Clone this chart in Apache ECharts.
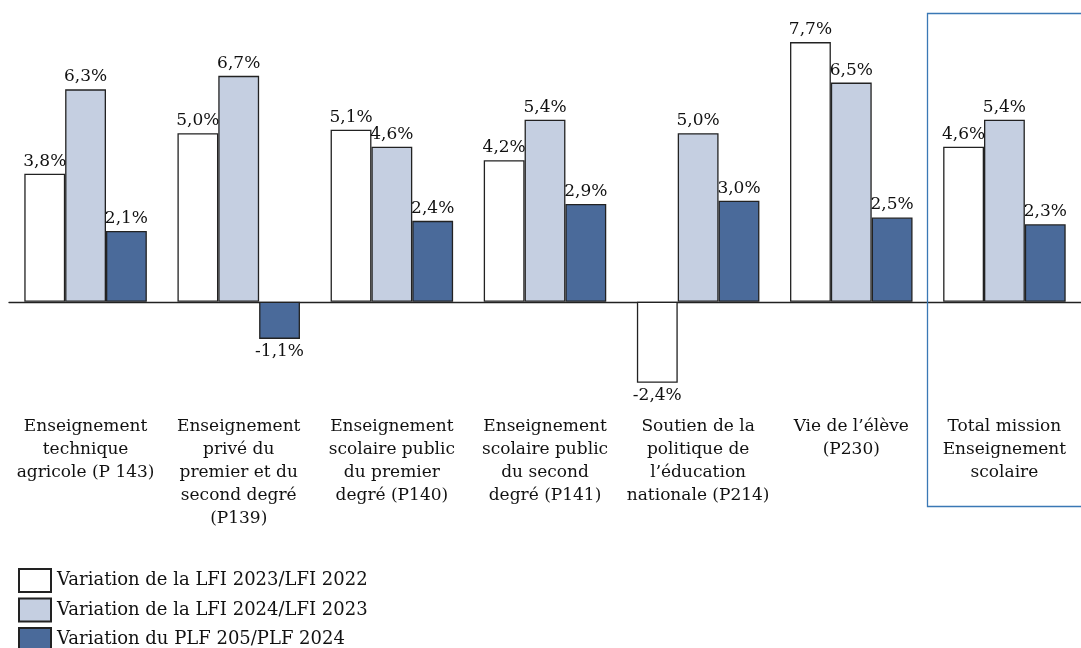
<!DOCTYPE html>
<html lang="fr">
<head>
<meta charset="utf-8">
<script src="https://cdn.jsdelivr.net/npm/echarts@6/dist/echarts.min.js"></script>
<title>Variation des crédits</title>
</head>
<body>
<style>
    html, body, #main {
        width: 100%;
        height: 100%;
        margin: 0;
        background: #fff;
    }
</style>
<div id="main"></div>
<script>
    var categories = [
        'Enseignement\ntechnique\nagricole (P 143)',
        'Enseignement\nprivé du\npremier et du\nsecond degré\n(P139)',
        'Enseignement\nscolaire public\ndu premier\ndegré (P140)',
        'Enseignement\nscolaire public\ndu second\ndegré (P141)',
        'Soutien de la\npolitique de\nl\u2019éducation\nnationale (P214)',
        'Vie de l\u2019élève\n(P230)',
        'Total mission\nEnseignement\nscolaire'
    ];
    var seriesNames = [
        'Variation de la LFI 2023/LFI 2022',
        'Variation de la LFI 2024/LFI 2023',
        'Variation du PLF 205/PLF 2024'
    ];
    var lfi2023 = [3.8, 5.0, 5.1, 4.2, -2.4, 7.7, 4.6];
    var lfi2024 = [6.3, 6.7, 4.6, 5.4, 5.0, 6.5, 5.4];
    var plf2025 = [2.1, -1.1, 2.4, 2.9, 3.0, 2.5, 2.3];
    var colors = ['#ffffff', '#c5cfe1', '#4a6a9a'];

    var font = 'DejaVu Serif';

    function makeSeries(name, values, color) {
        return {
            name: name,
            type: 'bar',
            barGap: 0,
            barCategoryGap: '20%',
            itemStyle: { color: color, borderColor: '#222', borderWidth: 1.3 },
            data: values.map(function (v) {
                return {
                    value: v,
                    label: { position: v < 0 ? 'bottom' : 'top' }
                };
            }),
            label: {
                show: true,
                distance: 4,
                fontFamily: font,
                fontSize: 17,
                color: '#111',
                formatter: function (p) {
                    return p.value.toFixed(1).replace('.', ',') + '%';
                }
            }
        };
    }

    // one legend block per series, stacked in a column
    function makeLegend(name, i) {
        return {
            orient: 'vertical',
            left: 18,
            top: 568 + i * 29.5,
            padding: 0,
            itemWidth: 32,
            itemHeight: 23,
            icon: 'rect',
            textStyle: { fontFamily: font, fontSize: 18, color: '#111', padding: [0, 0, 0, 1] },
            data: [name]
        };
    }

    var chart = echarts.init(document.getElementById('main'));
    var option = {
        animation: false,
        textStyle: { fontFamily: font },
        grid: { left: 9, top: 32, width: 1078, height: 371 },
        legend: seriesNames.map(makeLegend),
        xAxis: [{
            type: 'category',
            data: categories,
            axisLine: { onZero: true, lineStyle: { color: '#222', width: 1.3 } },
            axisTick: { show: false },
            axisLabel: { show: false }
        }, {
            type: 'category',
            data: categories,
            position: 'bottom',
            axisLine: { show: false },
            axisTick: { show: false },
            axisLabel: {
                interval: 0,
                margin: 12,
                fontFamily: font,
                fontSize: 17,
                lineHeight: 23,
                color: '#111',
                align: 'center',
                verticalAlign: 'top'
            }
        }],
        yAxis: {
            type: 'value',
            min: -3,
            max: 8,
            show: false,
            splitLine: { show: false }
        },
        series: [
            makeSeries(seriesNames[0], lfi2023, colors[0]),
            makeSeries(seriesNames[1], lfi2024, colors[1]),
            makeSeries(seriesNames[2], plf2025, colors[2])
        ],
        graphic: [{
            type: 'rect',
            shape: { x: 927.5, y: 13.5, width: 200, height: 493 },
            style: { fill: 'none', stroke: '#3a78b5', lineWidth: 1.3 },
            z: 10
        }]
    };
    chart.setOption(option);
    window.onresize = chart.resize;
</script>
</body>
</html>
